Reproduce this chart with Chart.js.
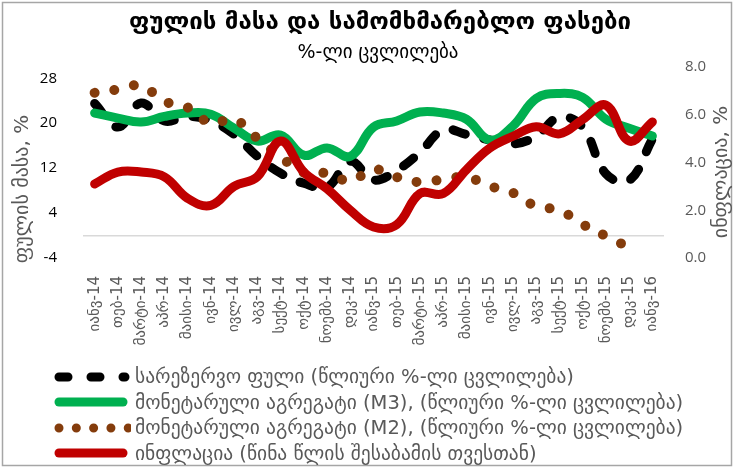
<!DOCTYPE html>
<html lang="ka">
<head>
<meta charset="UTF-8">
<title>ფულის მასა და სამომხმარებლო ფასები</title>
<script src="https://cdn.jsdelivr.net/npm/chart.js"></script>
<style>
  body { margin: 0; background: #fff; }
  .wrap { position: relative; width: 735px; height: 470px; }
  #chart { position: absolute; left: 0; top: 0; }
  .legend {
    position: absolute; left: 47px; top: 364px;
    font-family: "DejaVu Sans", sans-serif; font-size: 19.5px; color: #595959;
  }
  .legend div { height: 25.5px; display: flex; align-items: center; white-space: nowrap; }
  .legend svg { margin-right: 4px; }
</style>
</head>
<body>
<div class="wrap">
  <canvas id="chart" width="735" height="470"></canvas>
  <div class="legend" id="legend"></div>
</div>

<script>
// texts
const chartTitle = 'ფულის მასა და სამომხმარებლო ფასები';
const chartSubtitle = '%-ლი ცვლილება';
const leftTitle = 'ფულის მასა, %';
const rightTitle = 'ინფლაცია, %';

const months = [
  'იანვ-14', 'თებ-14', 'მარტი-14', 'აპრ-14', 'მაისი-14', 'ივნ-14', 'ივლ-14', 'აგვ-14',
  'სექტ-14', 'ოქტ-14', 'ნოემბ-14', 'დეკ-14', 'იანვ-15', 'თებ-15', 'მარტი-15', 'აპრ-15',
  'მაისი-15', 'ივნ-15', 'ივლ-15', 'აგვ-15', 'სექტ-15', 'ოქტ-15', 'ნოემბ-15', 'დეკ-15', 'იანვ-16'
];

const seriesNames = [
  'სარეზერვო ფული (წლიური %-ლი ცვლილება)',
  'მონეტარული აგრეგატი (M3), (წლიური %-ლი ცვლილება)',
  'მონეტარული აგრეგატი (M2), (წლიური %-ლი ცვლილება)',
  'ინფლაცია (წინა წლის შესაბამის თვესთან)'
];

// left axis series (%)
const reserveMoney = [23.5, 19.3, 23.6, 20.4, 21.2, 20.4, 18.0, 14.1, 11.1, 9.3, 8.6, 13.2, 9.9,
                      11.6, 14.8, 18.8, 18.0, 17.0, 16.3, 17.7, 21.1, 19.3, 11.0, 9.8, 17.2];
const m3 = [21.8, 20.9, 20.2, 21.2, 21.8, 21.6, 19.1, 16.8, 17.9, 14.3, 15.6, 14.1, 19.3,
            20.4, 22.0, 21.8, 20.7, 17.0, 19.5, 24.4, 25.3, 24.6, 20.7, 19.1, 17.7];
const m2 = [25.4, 26.0, 26.7, 23.9, 22.8, 20.0, 20.7, 17.3, 14.0, 11.2, 11.1, 9.7, 11.8,
            10.4, 9.5, 10.0, 10.4, 8.8, 7.6, 5.2, 4.5, 2.0, -0.1, -2.1, null];
// right axis series (%)
const inflation = [3.1, 3.6, 3.6, 3.4, 2.5, 2.2, 3.0, 3.4, 4.9, 3.6, 2.9, 2.0, 1.3,
                   1.4, 2.7, 2.7, 3.7, 4.6, 5.1, 5.5, 5.2, 5.8, 6.4, 4.9, 5.7];

const leftTicks = [-4, 4, 12, 20, 28];
const rightTicks = [0, 2, 4, 6, 8];

const colors = ['#000000', '#00b050', '#843c0c', '#c00000'];

// legend (html)
const legendSamples = [
  '<line x1="12" y1="7" x2="78" y2="7" stroke="#000" stroke-width="9" stroke-linecap="round" stroke-dasharray="9 23"/>',
  '<line x1="12" y1="7" x2="76" y2="7" stroke="#00b050" stroke-width="9" stroke-linecap="round"/>',
  '<line x1="12" y1="7" x2="82" y2="7" stroke="#843c0c" stroke-width="9" stroke-linecap="round" stroke-dasharray="0.01 17.3"/>',
  '<line x1="12" y1="7" x2="76" y2="7" stroke="#c00000" stroke-width="9" stroke-linecap="round"/>'
];
document.getElementById('legend').innerHTML = seriesNames.map((name, i) =>
  `<div><svg width="84" height="14">${legendSamples[i]}</svg>${name}</div>`).join('');

const textPlugin = {
  id: 'texts',
  afterDraw(chart) {
    const ctx = chart.ctx;
    ctx.save();
    ctx.strokeStyle = '#a6a6a6';
    ctx.lineWidth = 1.5;
    ctx.strokeRect(2.5, 2.5, 729, 463);

    ctx.textAlign = 'center';
    ctx.textBaseline = 'middle';
    ctx.fillStyle = '#000';
    ctx.font = 'bold 24px "DejaVu Sans"';
    ctx.fillText(chartTitle, 380, 23);
    ctx.font = '19px "DejaVu Sans"';
    ctx.fillText(chartSubtitle, 378, 53);

    ctx.fillStyle = '#595959';
    ctx.font = '20px "DejaVu Sans"';
    ctx.save();
    ctx.translate(23, 189);
    ctx.rotate(-Math.PI / 2);
    ctx.fillText(leftTitle, 0, 0);
    ctx.restore();
    ctx.save();
    ctx.translate(722, 172);
    ctx.rotate(-Math.PI / 2);
    ctx.fillText(rightTitle, 0, 0);
    ctx.restore();
    ctx.restore();
  }
};

new Chart(document.getElementById('chart'), {
  type: 'line',
  data: {
    labels: months,
    datasets: [
      { label: seriesNames[0], data: reserveMoney, yAxisID: 'y', borderColor: colors[0],
        borderWidth: 9, borderDash: [13, 19], borderCapStyle: 'round', order: 4 },
      { label: seriesNames[1], data: m3, yAxisID: 'y', borderColor: colors[1],
        borderWidth: 9, borderCapStyle: 'round', order: 3 },
      { label: seriesNames[2], data: m2, yAxisID: 'y', borderColor: colors[2],
        borderWidth: 10, borderDash: [0.01, 20], borderCapStyle: 'round', order: 2 },
      { label: seriesNames[3], data: inflation, yAxisID: 'y1', borderColor: colors[3],
        borderWidth: 9, borderCapStyle: 'round', order: 1 }
    ]
  },
  options: {
    responsive: false,
    animation: false,
    layout: { padding: { top: 67, left: 0, right: 0, bottom: 0 } },
    elements: {
      point: { radius: 0 },
      line: { tension: 0.4, borderJoinStyle: 'round' }
    },
    plugins: { legend: { display: false }, tooltip: { enabled: false } },
    scales: {
      x: {
        offset: true,
        grid: { display: false },
        border: { display: false },
        ticks: {
          autoSkip: false, minRotation: 90, maxRotation: 90, padding: 10,
          color: '#595959', font: { family: '"DejaVu Sans"', size: 15 }
        },
        afterFit: s => { s.height = 212; }
      },
      y: {
        position: 'left',
        min: -4, max: 30,
        afterBuildTicks: s => { s.ticks = [...leftTicks, 0].sort((a, b) => a - b).map(v => ({ value: v })); },
        ticks: {
          padding: 26, color: '#000', font: { family: '"Open Sans"', size: 15 },
          callback: v => leftTicks.includes(v) ? v : ''
        },
        grid: { drawTicks: false, lineWidth: 1.5, color: c => c.tick && c.tick.value === 0 ? '#d9d9d9' : 'rgba(0,0,0,0)' },
        border: { display: false },
        afterFit: s => { s.width = 83; }
      },
      y1: {
        position: 'right',
        min: 0, max: 8,
        afterBuildTicks: s => { s.ticks = rightTicks.map(v => ({ value: v })); },
        ticks: {
          padding: 21, color: '#595959', font: { family: '"Open Sans"', size: 15 },
          callback: v => v.toFixed(1)
        },
        grid: { display: false, drawTicks: false },
        border: { display: false },
        afterFit: s => { s.width = 71; }
      }
    }
  },
  plugins: [textPlugin]
});
</script>
</body>
</html>
